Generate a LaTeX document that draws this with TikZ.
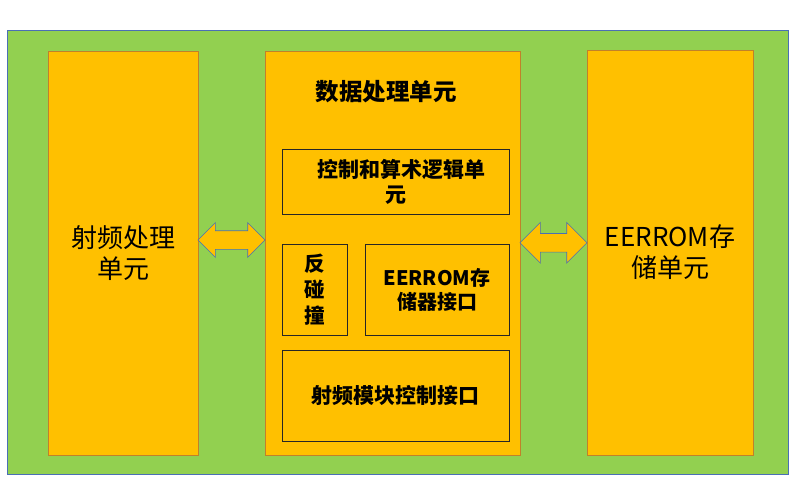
\documentclass[tikz,border=0pt]{standalone}
\usepackage{fontspec}
\setmainfont{Noto Sans CJK SC}
\usetikzlibrary{shapes.arrows,calc}
\definecolor{bggreen}{HTML}{92D050}
\definecolor{boxorange}{HTML}{FFC000}
\definecolor{edgebrown}{HTML}{C0812A}
\definecolor{edgeblue}{HTML}{4A6FB5}
\tikzset{
  unit/.style={draw=edgebrown, fill=boxorange, line width=0.8pt, inner sep=0pt, align=center, font=\fontsize{26}{31}\selectfont},
  part/.style={draw=black!85, line width=0.8pt, inner sep=0pt, align=center, font=\bfseries\fontsize{21}{25}\selectfont},
  link/.style={double arrow, draw=edgeblue, fill=boxorange, line width=0.6pt, inner sep=9pt, minimum height=67pt}
}
\begin{document}
\begin{tikzpicture}[x=1pt,y=-1pt]
\useasboundingbox (0,0) rectangle (800,500);
\node[draw=edgeblue, fill=bggreen, line width=0.8pt, inner sep=0pt, minimum width=781pt, minimum height=444pt] (board) at (397.5,252) {};

\node[unit, minimum width=150pt, minimum height=404pt] (rf) at (123,253) {射频处理\\单元};
\node[unit, minimum width=255pt, minimum height=404pt] (dp) at (392.5,253) {};
\node[unit, minimum width=166pt, minimum height=405pt] (ee) at (670,252.5) {EERROM存\\储单元};

\node[font=\bfseries\fontsize{23.5}{28}\selectfont] (title) at (386,92) {数据处理单元};
\node[part, minimum width=227pt, minimum height=65pt] (alu) at (395.5,181.5) {\hspace*{12pt}控制和算术逻辑单\\元};
\node[part, minimum width=65pt, minimum height=91pt, font=\bfseries\fontsize{20.5}{26}\selectfont] (anti) at (314.5,289.5) {反\\碰\\撞};
\node[part, minimum width=144pt, minimum height=91pt, font=\bfseries\fontsize{20}{24}\selectfont] (eif) at (437,289.5) {EERROM存\\储器接口};
\node[part, minimum width=227pt, minimum height=91pt] (rfif) at (395.5,395.5) {射频模块控制接口};

\node[link, minimum width=34pt, double arrow head extend=8pt] (a1) at ($(rf.east)!.5!(dp.west)+(0,-13)$) {};
\node[link, minimum width=40pt, double arrow head extend=11pt] (a2) at ($(dp.east)!.5!(ee.west)+(0,-10)$) {};
\end{tikzpicture}
\end{document}
